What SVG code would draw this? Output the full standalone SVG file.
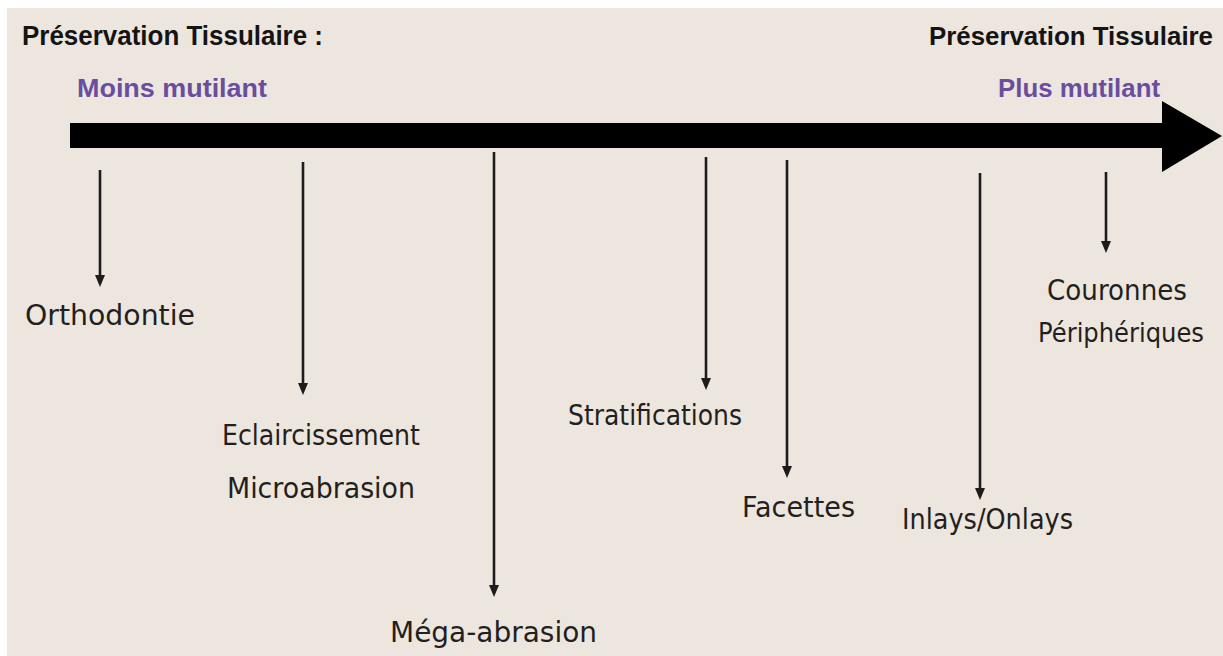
<svg xmlns="http://www.w3.org/2000/svg" width="1223" height="656" viewBox="0 0 1223 656">
<style>
.title{font-family:"Liberation Sans",Arial,sans-serif;font-weight:bold;font-size:27px;fill:#141414}
.sub{font-family:"Liberation Sans",Arial,sans-serif;font-weight:bold;font-size:26px;fill:#6a4d9e}
.lbl{font-family:"DejaVu Sans","Liberation Sans",sans-serif;font-size:28px;fill:#231f20}
.conn{stroke:#1c1c1c;stroke-width:2.6;fill:none;marker-end:url(#ah)}
</style>
<defs>
<marker id="ah" markerUnits="userSpaceOnUse" markerWidth="12" markerHeight="10" refX="6" refY="5" orient="auto" viewBox="0 0 12 10">
<path d="M0,0 L12,5 L0,10 Z" fill="#1c1c1c"/>
</marker>
</defs>
<rect x="0" y="0" width="1223" height="656" fill="#ffffff"/>
<rect x="7" y="8" width="1216" height="648" fill="#ede6de"/>

<g id="main-arrow">
<path d="M70,123 L1162,123 L1162,101 L1222,136 L1162,172 L1162,148 L70,148 Z" fill="#000000"/>
</g>

<g id="header-left">
<text class="title" x="22" y="45" textLength="301" lengthAdjust="spacingAndGlyphs">Préservation Tissulaire :</text>
<text class="sub" x="77" y="97" textLength="190" lengthAdjust="spacingAndGlyphs">Moins mutilant</text>
</g>
<g id="header-right">
<text class="title" x="929" y="45" style="font-size:26px" textLength="284" lengthAdjust="spacingAndGlyphs">Préservation Tissulaire</text>
<text class="sub" x="998" y="97" textLength="162" lengthAdjust="spacingAndGlyphs">Plus mutilant</text>
</g>

<g id="connectors">
<line class="conn" x1="100" y1="170" x2="100" y2="281"/>
<line class="conn" x1="303" y1="162" x2="303" y2="389"/>
<line class="conn" x1="494" y1="152" x2="494" y2="591"/>
<line class="conn" x1="706" y1="157" x2="706" y2="384"/>
<line class="conn" x1="787" y1="160" x2="787" y2="472"/>
<line class="conn" x1="980" y1="173" x2="980" y2="494"/>
<line class="conn" x1="1106" y1="172" x2="1106" y2="247"/>
</g>

<g id="node-orthodontie">
<text class="lbl" x="25" y="325" textLength="170" lengthAdjust="spacingAndGlyphs">Orthodontie</text>
</g>
<g id="node-eclaircissement">
<text class="lbl" x="222" y="445" textLength="198" lengthAdjust="spacingAndGlyphs">Eclaircissement</text>
<text class="lbl" x="227" y="498" textLength="188" lengthAdjust="spacingAndGlyphs">Microabrasion</text>
</g>
<g id="node-mega-abrasion">
<text class="lbl" x="390" y="642" textLength="207" lengthAdjust="spacingAndGlyphs">Méga-abrasion</text>
</g>
<g id="node-stratifications">
<text class="lbl" x="568" y="425" textLength="174" lengthAdjust="spacingAndGlyphs">Stratifications</text>
</g>
<g id="node-facettes">
<text class="lbl" x="742" y="517" textLength="113" lengthAdjust="spacingAndGlyphs">Facettes</text>
</g>
<g id="node-inlays">
<text class="lbl" x="902" y="529" textLength="171" lengthAdjust="spacingAndGlyphs">Inlays/Onlays</text>
</g>
<g id="node-couronnes">
<text class="lbl" x="1047" y="300" textLength="140" lengthAdjust="spacingAndGlyphs">Couronnes</text>
<text class="lbl" x="1038" y="342" style="font-size:26px" textLength="166" lengthAdjust="spacingAndGlyphs">Périphériques</text>
</g>
</svg>
